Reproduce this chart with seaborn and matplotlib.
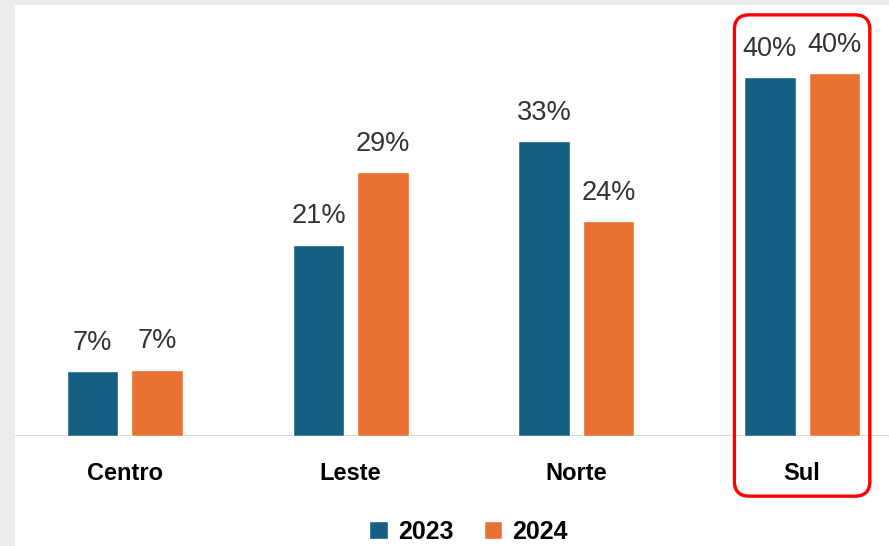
import pandas as pd
import matplotlib.pyplot as plt
import seaborn as sns
from matplotlib.patches import FancyBboxPatch, Rectangle

# Data
regions = ["Centro", "Leste", "Norte", "Sul"]
years = ["2023", "2024"]
values_2023 = [7.2, 21.3, 32.8, 40.0]
values_2024 = [7.4, 29.4, 23.9, 40.4]
highlight = "Sul"

colors = {"2023": "#156082", "2024": "#E97132"}

df = pd.DataFrame({
    "region": regions * 2,
    "year": [years[0]] * len(regions) + [years[1]] * len(regions),
    "value": values_2023 + values_2024,
})

sns.set_theme(style="white")
plt.rcParams['font.family'] = ['Liberation Sans', 'DejaVu Sans']

fig = plt.figure(figsize=(8.89, 5.46), dpi=100, facecolor="#ebebeb")
# white panel (gray strip on left and top like the screenshot)
fig.patches.append(Rectangle((15 / 889, 0), 1, 1 - 5 / 546, transform=fig.transFigure,
                             facecolor="white", edgecolor="none", zorder=-10))

ax = fig.add_axes([15 / 889, 110 / 546, 874 / 889, 431 / 546])
ax.set_facecolor("none")

sns.barplot(data=df, x="region", y="value", hue="year", order=regions, hue_order=years,
            palette=colors, width=0.57, gap=0.2, saturation=1, ax=ax, legend=False)

for cont in ax.containers:
    ax.bar_label(cont, labels=[f"{v:.0f}%" for v in cont.datavalues],
                 padding=11, fontsize=19.5, color="#333333")

ax.set_xlim(-0.487, 3.385)
ax.set_ylim(0, 48)
ax.axhline(0, color="#d0d0d0", lw=1.2, zorder=0)
for s in ax.spines.values():
    s.set_visible(False)
ax.set_yticks([])
ax.set_xlabel("")
ax.set_ylabel("")
ax.tick_params(axis="x", length=0, pad=19)
for lab in ax.get_xticklabels():
    lab.set_fontweight("bold")
    lab.set_fontsize(17)
    lab.set_color("black")

# red rounded box around highlighted region
px_x = 226.0   # pixels per category unit
px_y = 8.98    # pixels per percentage point
hi = regions.index(highlight)
box = FancyBboxPatch((hi - 0.3, -6.7), 0.6, 53.6,
                     boxstyle="round,pad=0,rounding_size=0.066",
                     mutation_aspect=px_x / px_y,
                     fill=False, edgecolor="#ff0000", lw=2.4, clip_on=False, zorder=5)
ax.add_patch(box)

handles = [Rectangle((0, 0), 1, 1, facecolor=colors[y]) for y in years]
leg = fig.legend(handles, years, loc="center", bbox_to_anchor=(0.527, 0.026), ncol=2,
                 frameon=False, prop={"weight": "bold", "size": 18},
                 handlelength=0.75, handleheight=0.75, handletextpad=0.4, columnspacing=1.2)
for t in leg.get_texts():
    t.set_color("black")

fig.savefig("out.png", dpi=100, facecolor=fig.get_facecolor())
